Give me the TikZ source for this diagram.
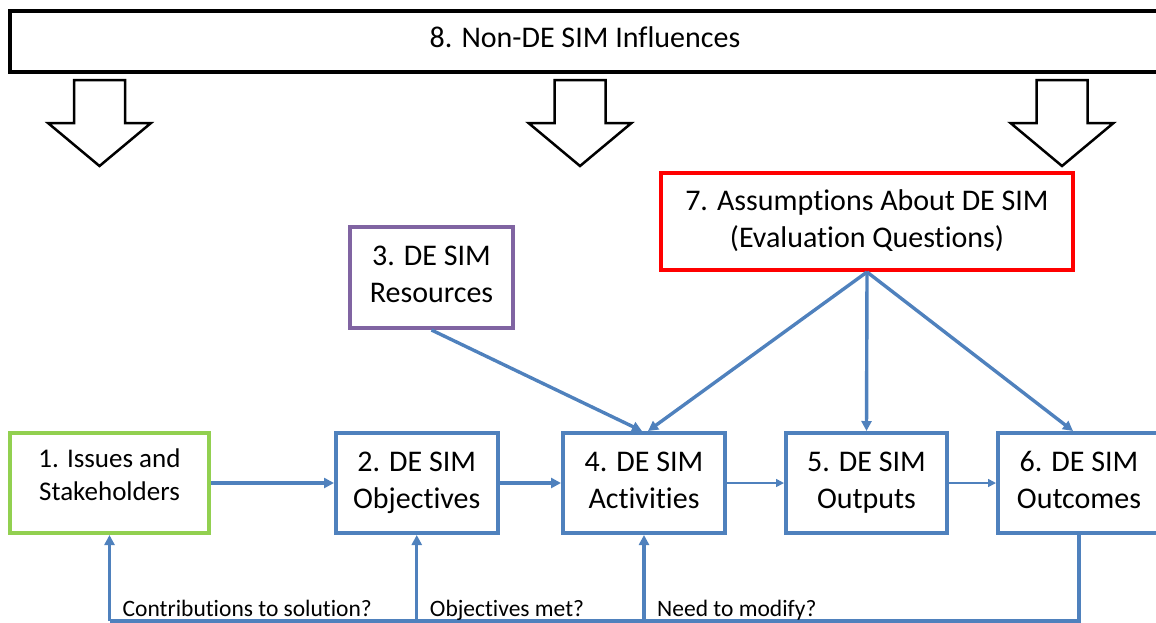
\documentclass[tikz,border=0pt]{standalone}
\usepackage{fontspec}
\setmainfont{Carlito}[Ligatures=NoCommon, Contextuals=NoAlternate]
\usetikzlibrary{arrows.meta}
\definecolor{simblue}{HTML}{4F81BD}
\definecolor{simgreen}{HTML}{92D050}
\definecolor{simpurple}{HTML}{8064A2}
\definecolor{simred}{HTML}{FF0000}
\newcommand{\figurescale}{1pt}
\newcommand{\boxfont}{\fontsize{30}{37}\selectfont}
\newcommand{\smallboxfont}{\fontsize{27}{33}\selectfont}
\newcommand{\labelfont}{\fontsize{23.5}{28}\selectfont}

\begin{document}
\begin{tikzpicture}[x=\figurescale,y=-\figurescale,
	box/.style={draw=simblue, line width=4pt, minimum width=162pt, minimum height=100pt, inner sep=0pt, align=center, font=\boxfont},
	flow/.style={simblue, line width=3.4pt},
	tip/.style={-{Triangle[length=10pt,width=10pt]}},
	thinflow/.style={simblue, line width=1.6pt, -{Triangle[length=8pt,width=8pt]}},
	bigarrow/.style={draw=black, fill=white, line width=2.5pt},
	fblabel/.style={font=\labelfont, inner sep=0pt, anchor=base west}]
	\useasboundingbox (0,0) rectangle (1156,622);

	\node[box, draw=black, minimum width=1150pt, minimum height=61pt, text depth=8pt] (infl) at (585,41.5) {8. Non-DE SIM Influences};
	\foreach \cx in {99.5,580,1062}
		\draw[bigarrow] (\cx-25.5,80) -- (\cx+25.5,80) -- (\cx+25.5,123) -- (\cx+51.5,123) -- (\cx,166) -- (\cx-51.5,123) -- (\cx-25.5,123) -- cycle;

	\node[box, draw=simred, minimum width=412pt, minimum height=97pt] (asm) at (867,221.5) {7. Assumptions About DE SIM\\(Evaluation Questions)\\[-31pt]};
	\node[box, draw=simpurple, minimum width=163pt, minimum height=101pt] (res) at (431.5,277.5) {3. DE SIM\\Resources\\[-31pt]};

	\node[box, draw=simgreen, minimum width=199pt, font=\smallboxfont] (iss) at (109.5,483) {1. Issues and\\Stakeholders\\[-16pt]};
	\node[box, minimum width=161.5pt] (obj) at (416.75,483) {2. DE SIM\\Objectives\\[-31pt]};
	\node[box] (act) at (644,483) {4. DE SIM\\Activities\\[-31pt]};
	\node[box, minimum width=161pt] (outp) at (866.5,483) {5. DE SIM\\Outputs\\[-31pt]};
	\node[box] (outc) at (1079,483) {6. DE SIM\\Outcomes\\[-31pt]};

	\draw[flow, tip] (iss) -- (obj);
	\draw[flow, tip] (obj) -- (act);
	\draw[thinflow] (act) -- (outp);
	\draw[thinflow] (outp) -- (outc);
	\draw[flow, tip] (res.south) -- ([xshift=-2pt]act.north);
	\draw[flow, tip] (asm.south) -- ([xshift=4pt]act.north);
	\draw[flow, tip] (asm.south) -- (outp.north);
	\draw[flow, tip] (asm.south) -- ([xshift=-6pt]outc.north);

	\coordinate (base) at (0,621);
	\coordinate (lbl) at (0,616);
	\draw[flow] (outc.south) -- (outc.south |- base) -- (iss.south |- base);
	\draw[flow, tip] (iss.south |- base) -- (iss.south);
	\draw[flow, tip] (obj.south |- base) -- (obj.south);
	\draw[flow, tip] (act.south |- base) -- (act.south);

	\node[fblabel] (q1) at ([xshift=13pt]iss.south |- lbl) {Contributions to solution?};
	\node[fblabel] (q2) at ([xshift=13pt]obj.south |- lbl) {Objectives met?};
	\node[fblabel] (q3) at ([xshift=13pt]act.south |- lbl) {Need to modify?};
\end{tikzpicture}
\end{document}
